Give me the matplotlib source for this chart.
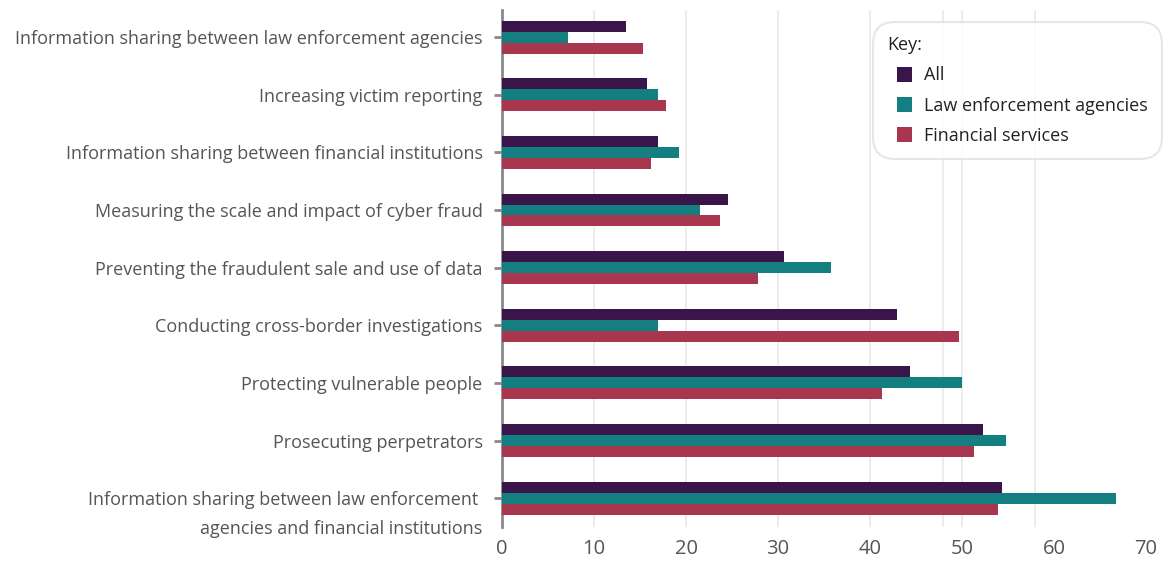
import numpy as np
import matplotlib
matplotlib.use("Agg")
import matplotlib.pyplot as plt
from matplotlib.patches import Rectangle
from matplotlib.container import BarContainer
from matplotlib.legend_handler import HandlerPatch

plt.rcParams['font.family'] = ['Open Sans', 'DejaVu Sans']

# categories, top to bottom as drawn
categories = [
    "Information sharing between law enforcement agencies",
    "Increasing victim reporting",
    "Information sharing between financial institutions",
    "Measuring the scale and impact of cyber fraud",
    "Preventing the fraudulent sale and use of data",
    "Conducting cross-border investigations",
    "Protecting vulnerable people",
    "Prosecuting perpetrators",
    "Information sharing between law enforcement ",
]
last_label_line2 = "agencies and financial institutions"
all_vals = [13.5, 15.8, 17.0, 24.6, 30.6, 42.9, 44.3, 52.3, 54.3]
lea_vals = [7.2, 17.0, 19.2, 21.5, 35.8, 17.0, 50.0, 54.8, 66.7]
fin_vals = [15.3, 17.8, 16.2, 23.7, 27.8, 49.7, 41.3, 51.3, 53.9]
series_names = ["All", "Law enforcement agencies", "Financial services"]
colors = ["#3a1549", "#137f80", "#a8364e"]
x_ticks = [0, 10, 20, 30, 40, 50, 60, 70]
grid_x = [10, 20, 30, 40, 47.9, 50, 57.9]  # gridlines as they appear in the source


def square_handle(legend, orig_handle, xdescent, ydescent, width, height, fontsize):
    # square swatch pushed to the right end of the handle slot
    return Rectangle((-xdescent + width - height, -ydescent), height, height)


def from_first_bar(tgt, orig):
    tgt.update_from(orig.patches[0])


fig = plt.figure(figsize=(11.63, 5.64), dpi=100)
ax = fig.add_axes([502 / 1163, 1 - 527 / 564, 644 / 1163, 517 / 564])

y = np.arange(len(categories))
h = 0.19
for off, vals, name, c in zip([-h, 0, h], [all_vals, lea_vals, fin_vals], series_names, colors):
    ax.barh(y + off, vals, height=h, color=c, label=name, zorder=3)

ax.set_ylim(len(categories) - 0.5, -0.47)
ax.set_xlim(0, 70)
ax.xaxis.remove_overlapping_locs = False
ax.set_xticks(x_ticks)
ax.set_xticks(grid_x, minor=True)
ax.set_yticks(y)
ax.set_yticklabels(categories)
ax.annotate(last_label_line2, xy=(0, y[-1]), xycoords=('axes fraction', 'data'),
            xytext=(-14, -20.5), textcoords='offset points', ha='right', va='center_baseline',
            fontsize=13, color='#555555')

ax.grid(axis='x', which='minor', color='#ebebeb', linewidth=1.3, zorder=0)

for s in ['top', 'right', 'bottom']:
    ax.spines[s].set_visible(False)
ax.spines['left'].set_color('#8a8a8a')
ax.spines['left'].set_linewidth(2)
ax.tick_params(axis='y', length=6, width=2, color='#8a8a8a', labelcolor='#555555', labelsize=13, pad=8)
ax.tick_params(axis='x', which='both', length=0, labelcolor='#555555', labelsize=14.5, pad=9)

leg = ax.legend(title="Key:", loc='upper left', bbox_to_anchor=(873 / 1163, 1 - 22 / 564),
                bbox_transform=fig.transFigure, fontsize=13, title_fontsize=13,
                frameon=True, fancybox=True, edgecolor='#e0e0e0', handlelength=1.4,
                handleheight=0.92, handletextpad=0.65, labelspacing=0.68,
                alignment='left', borderpad=0.78, borderaxespad=0,
                handler_map={BarContainer: HandlerPatch(patch_func=square_handle,
                                                        update_func=from_first_bar)})
leg.get_frame().set_linewidth(1.5)
leg.get_frame().set_boxstyle('round', pad=0.0, rounding_size=1.2)
for t in leg.get_texts():
    t.set_color('#222222')
leg.get_title().set_color('#222222')

fig.savefig("out.png", dpi=100)
